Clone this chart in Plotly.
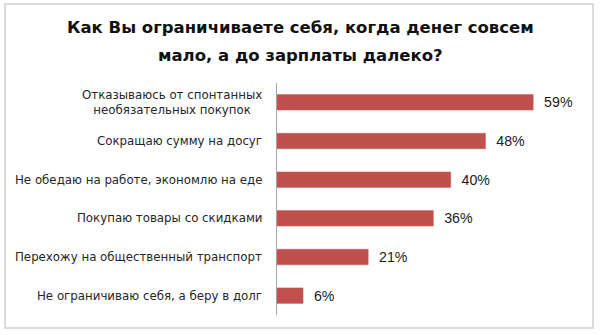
import plotly.graph_objects as go

categories = [
    "Отказываюсь от спонтанных<br>необязательных покупок",
    "Сокращаю сумму на досуг",
    "Не обедаю на работе, экономлю на еде",
    "Покупаю товары со скидками",
    "Перехожу на общественный транспорт",
    "Не ограничиваю себя, а беру в долг",
]
values = [59, 48, 40, 36, 21, 6]
labels = [f"{v}%" for v in values]
title_lines = ["Как Вы ограничиваете себя, когда денег совсем",
               "мало, а до зарплаты далеко?"]

W, H = 600, 335
px = lambda x: x / W
py = lambda y: 1 - y / H

fig = go.Figure()
fig.add_trace(go.Bar(
    x=values, y=categories, orientation="h",
    marker=dict(color="#C0504D", line=dict(color="#C75A57", width=0.5)),
    width=0.4,
    text=labels, textposition="outside",
    texttemplate="  %{text}",
    textfont=dict(family="Liberation Sans", size=16.5, color="#1a1a1a"),
    cliponaxis=False,
    hoverinfo="skip",
))

for c in categories:
    fig.add_annotation(
        x=px(264), xref="paper", y=c, yref="y",
        text=c, showarrow=False, xanchor="right", align="center",
        font=dict(family="DejaVu Sans", size=11.8, color="#262626"),
    )

for line, yc in zip(title_lines, [28, 55]):
    fig.add_annotation(
        x=0.5, xref="paper", y=py(yc), yref="paper",
        text=f"<b>{line}</b>", showarrow=False, xanchor="center", yanchor="middle",
        font=dict(family="DejaVu Sans", size=16.5, color="#111111"),
    )

fig.update_layout(
    width=W, height=H,
    margin=dict(l=0, r=0, t=0, b=0),
    paper_bgcolor="white", plot_bgcolor="white",
    showlegend=False,
    xaxis=dict(domain=[px(277), px(581)], range=[0, 70], showgrid=False,
               zeroline=False, showticklabels=False, showline=False),
    yaxis=dict(domain=[py(315), py(83)], autorange="reversed",
               showticklabels=False, showgrid=False, showline=True,
               linecolor="#A6A6A6", linewidth=1, ticks=""),
    shapes=[dict(type="rect", xref="paper", yref="paper",
                 x0=px(5), x1=px(593), y0=py(328), y1=py(4),
                 line=dict(color="#D0D0D0", width=1.5))],
)

fig.write_html("out.html")
